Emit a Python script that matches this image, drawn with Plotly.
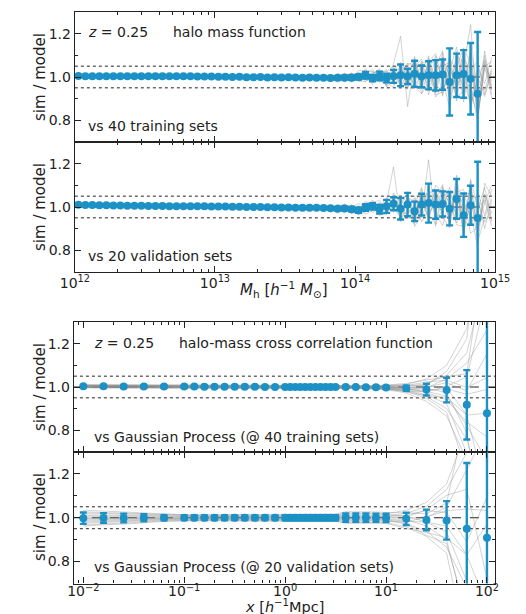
import plotly.graph_objects as go

W, H = 526, 614
BLUE = "#1b91c6"
GRAY = "rgba(140,140,140,0.55)"
INK = "#222222"

# ---------------- halo mass function (top panels) ----------------
logM = [12.025, 12.075, 12.125, 12.175, 12.225, 12.275, 12.325, 12.375, 12.425, 12.475,
        12.525, 12.575, 12.625, 12.675, 12.725, 12.775, 12.825, 12.875, 12.925, 12.975,
        13.025, 13.075, 13.125, 13.175, 13.225, 13.275, 13.325, 13.375, 13.425, 13.475,
        13.525, 13.575, 13.625, 13.675, 13.725, 13.775, 13.825, 13.875, 13.925, 13.975,
        14.025, 14.075, 14.125, 14.175, 14.225, 14.275, 14.325, 14.375, 14.425, 14.475,
        14.525, 14.575, 14.625, 14.675, 14.725, 14.775, 14.825, 14.875]
logM_extra = [14.925, 14.975]

hmf_train = [1.005, 1.004, 1.004, 1.003, 1.004, 1.004, 1.003, 1.003, 1.004, 1.003,
             1.003, 1.004, 1.003, 1.003, 1.004, 1.003, 1.003, 1.002, 1.002, 1.002,
             1.001, 1.001, 1.000, 1.001, 0.999, 0.999, 1.000, 0.998, 0.999, 0.998,
             0.999, 0.998, 0.997, 0.998, 0.996, 0.997, 0.995, 0.996, 0.997, 0.997,
             1.000, 1.008, 0.995, 1.005, 0.995, 1.003, 1.008, 1.003, 1.015, 1.003,
             1.008, 1.008, 1.011, 0.977, 1.008, 1.014, 0.992, 0.923]
hmf_train_err = [0.004] * 36 + [0.006, 0.007, 0.008, 0.010, 0.012, 0.015, 0.015, 0.020,
                                0.020, 0.030, 0.050, 0.035, 0.060, 0.050, 0.065, 0.070,
                                0.070, 0.155, 0.100, 0.110, 0.165, 0.285]

hmf_valid = [1.010, 1.009, 1.009, 1.008, 1.008, 1.007, 1.007, 1.006, 1.006, 1.006,
             1.005, 1.005, 1.005, 1.004, 1.004, 1.004, 1.003, 1.003, 1.003, 1.002,
             1.002, 1.002, 1.001, 1.001, 1.000, 1.000, 1.000, 0.999, 0.999, 0.998,
             0.998, 0.997, 0.997, 0.996, 0.996, 0.995, 0.994, 0.992, 0.993, 0.990,
             0.985, 0.998, 1.003, 0.990, 1.003, 1.015, 0.992, 1.011, 0.980, 1.011,
             1.018, 1.011, 1.014, 0.992, 1.037, 0.962, 1.008, 0.949]
hmf_valid_err = [0.004] * 36 + [0.006, 0.007, 0.008, 0.010, 0.012, 0.015, 0.015, 0.020,
                                0.030, 0.030, 0.050, 0.054, 0.045, 0.050, 0.090, 0.065,
                                0.058, 0.077, 0.092, 0.100, 0.090, 0.260]

# individual sets: offsets (x0.01) from the mean over the last 22 bins + 2 extra bins
hmf_train_sets = [
    [1, -1, 1, 2, -1, 3, -2, 1, 4, -3, 5, -6, 3, 8, -5, 9, -4, 12, -8, 10, -12, 6, 8, -4],
    [-1, 1, -2, 1, 2, -3, 1, -2, -3, 4, -5, 6, -7, 2, 9, -8, 10, -6, 11, -9, 13, -10, 5, 7],
    [0, 2, 1, -2, -1, 2, 3, -3, 2, -4, -2, 5, 6, -8, 3, -10, -6, 9, -12, 7, 4, 15, -8, 3],
    [1, 0, -1, -1, 2, 1, -3, 2, -1, 3, 6, -4, -5, 7, -9, 4, 11, -10, 6, -13, 9, -5, 12, -6],
    [-1, -1, 2, 1, -2, -1, 2, 3, -4, -2, 3, -1, 7, -6, 8, -3, -9, 5, 13, -4, -11, 12, -3, 9],
    [0, 1, -1, 2, 1, -2, -1, 1, 3, 5, -6, 2, -3, -5, 6, 10, -2, -12, 4, 12, -7, -9, 10, -8],
    [1, -1, 0, -2, 3, 2, -2, -1, -2, -5, 1, 6, 4, 5, -7, -6, 8, 3, -10, -8, 14, 3, -6, 4],
    [-1, 0, 1, 2, -2, -3, 2, 3, 1, 2, -3, -5, 8, -3, 4, 7, -10, 11, 2, -6, -3, -13, 7, -10],
    [0, -2, -1, 1, 0, 1, 4, -2, -3, 1, 4, 3, -6, -8, -4, 2, 5, -7, 9, 5, -14, 8, -9, 2],
    [1, 1, 2, -1, -1, -2, -1, 2, 3, -2, 2, -4, 2, 6, 7, -9, -8, 6, -4, 11, 8, -11, 4, -5],
    [0, 1, -1, 2, 0, -2, 3, 1, -4, 6, 18, -14, 5, -3, 6, -8, 4, 9, -6, 3, 25, -10, 6, -2],
]
hmf_valid_sets = [
    [-1, 1, 0, -2, 2, -1, 3, -2, 1, -4, 3, 5, -3, 7, -6, 2, 9, -8, 5, -10, 11, -7, 6, -3],
    [1, -1, 2, 1, -2, 2, -1, 3, -3, 2, -5, -2, 6, -4, 8, -7, -3, 10, -9, 6, -5, 12, -4, 8],
    [0, 1, -1, 2, 1, -3, -2, 1, 4, -1, 2, -6, -4, 3, -8, 9, 5, -6, 11, -3, -9, 4, 9, -6],
    [1, -2, 1, -1, -1, 2, 2, -3, -2, 5, -3, 4, 7, -6, 2, -4, -10, 4, -7, 9, 6, -11, -5, 4],
    [-1, 0, -2, 1, 3, 1, -3, 2, -1, -3, 6, 1, -5, -2, 5, 6, -6, -9, 8, -7, 12, 5, 3, -9],
    [0, 2, 1, -1, -2, -2, 1, -1, 3, 1, -2, -4, 3, 8, -5, -9, 7, 2, -11, 4, -4, -13, 11, 5],
    [1, 0, -1, 2, 0, 3, -1, -2, -4, 3, 4, -1, -6, 5, 4, -3, 8, -5, 3, 12, -8, 7, -7, -2],
    [-1, -1, 1, 0, 2, -1, 2, 4, -2, -2, -4, 3, 5, -8, -3, 7, -2, 6, -12, -5, 9, -6, 2, 10],
    [0, 1, 2, -2, -1, 0, -2, 1, 2, 17, -6, 2, -2, 4, -7, 5, -5, -4, 6, -8, 3, 10, -10, 3],
    [1, -1, -1, 1, 1, -2, 0, 3, -3, -1, 1, 6, -7, -5, 20, -10, 4, 7, -3, 8, -13, -4, 5, -7],
]

# ---------------- cross correlation (bottom panels) ----------------
logx = [-2.0, -1.8, -1.6, -1.4, -1.2, -1.0, -0.9, -0.8, -0.7, -0.6, -0.5, -0.4, -0.3, -0.2,
        -0.1, 0.0, 0.05, 0.1, 0.15, 0.2, 0.25, 0.3, 0.35, 0.4, 0.45, 0.5, 0.6, 0.7, 0.8,
        0.9, 1.0, 1.2, 1.4, 1.6, 1.8, 2.0]

xi_train = [1.003, 1.003, 1.002, 1.002, 1.002, 1.002, 1.002, 1.001, 1.001, 1.001,
            1.001, 1.001, 1.001, 1.000, 1.000, 1.000, 1.000, 1.000, 1.000, 1.000,
            1.000, 1.000, 1.000, 1.000, 1.000, 1.000, 1.000, 1.000, 0.999, 0.999,
            0.998, 0.994, 0.988, 0.986, 0.918, 0.879]
xi_train_err = [0.004] * 29 + [0.005, 0.006, 0.012, 0.027, 0.057, 0.160, 0.550]

xi_valid = [0.998, 0.999, 0.999, 1.000, 1.000, 1.000, 1.000, 1.000, 1.000, 1.000,
            1.000, 1.000, 1.000, 1.000, 1.000, 1.000, 1.000, 1.000, 1.000, 1.000,
            1.000, 1.000, 1.000, 1.000, 1.000, 1.000, 1.001, 1.001, 1.001, 1.000,
            0.999, 0.995, 0.990, 0.988, 0.950, 0.909]
xi_valid_err = [0.026, 0.022, 0.020, 0.016, 0.012, 0.010, 0.010, 0.010, 0.010, 0.010,
                0.010, 0.010, 0.010, 0.010, 0.010, 0.012, 0.012, 0.012, 0.012, 0.012,
                0.012, 0.012, 0.012, 0.012, 0.012, 0.012, 0.019, 0.019, 0.019, 0.019,
                0.019, 0.028, 0.047, 0.088, 0.300, 0.620]

# individual sets, in units of the error bar: [small scales, x=10, 16, 25, 40, 63, 100]
xi_train_sets = [
    [0.5, 0.5, 0.8, 1.0, 1.2, 1.5, 1.2], [-0.6, -0.5, -0.8, -1.2, -1.5, -1.0, -0.8],
    [1.2, 1.0, 1.5, 1.8, 2.0, 2.2, 1.6], [-1.1, -1.0, -1.2, -1.5, -1.8, -1.9, -1.5],
    [0.2, 0.3, 0.2, 0.4, 0.6, 0.4, 0.5], [-0.3, -0.2, -0.4, -0.3, -0.5, -0.6, -0.4],
    [1.6, 1.5, 1.3, 0.6, 0.2, -0.3, -0.7], [-1.5, -1.4, -1.0, -0.4, 0.3, 0.8, 1.0],
    [0.8, 0.7, 0.5, 0.2, -0.2, -0.8, -1.2], [-0.9, -0.8, -0.6, -0.9, -1.1, -1.4, -1.9],
    [0.1, 0.0, 0.3, 0.8, 1.5, 1.9, 2.2], [-0.1, 0.1, -0.2, -0.1, 0.1, 0.3, 0.2],
    [1.0, 0.9, 1.1, 1.3, 0.8, 0.5, 0.3], [-1.3, -1.2, -1.4, -1.0, -0.6, -0.3, 0.0],
    [0.4, 0.4, 0.0, -0.5, -0.8, -0.5, -0.2], [-0.7, -0.6, -0.3, 0.3, 0.9, 1.2, 0.7],
    [1.9, 1.8, 1.9, 1.6, 1.1, 0.9, 1.5], [-1.8, -1.7, -1.8, -2.0, -2.1, -1.6, -1.1],
]
xi_valid_sets = [
    [0.6, 0.6, 0.9, 1.3, 1.6, 1.2, 0.9], [-0.7, -0.6, -0.8, -1.1, -1.4, -0.9, -0.6],
    [1.1, 1.0, 1.4, 1.7, 1.9, 1.5, 1.3], [-1.2, -1.1, -1.3, -1.6, -1.7, -1.8, -1.2],
    [0.2, 0.2, 0.1, 0.3, 0.5, 0.3, 0.2], [-0.3, -0.3, -0.4, -0.2, -0.3, -0.4, -0.5],
    [0.9, 0.8, 0.4, -0.2, -0.6, -0.8, -1.0], [-0.9, -0.8, -0.4, 0.2, 0.7, 0.9, 0.8],
    [0.4, 0.4, 0.6, 0.9, 0.4, -0.2, 0.3], [-0.5, -0.4, -0.8, -1.5, -1.2, -1.3, -1.6],
    [1.4, 1.3, 1.0, 0.6, 0.9, 1.8, 2.0], [-1.4, -1.3, -1.6, -1.2, -0.9, -0.4, 0.1],
    [0.0, 0.1, 0.3, 1.0, 1.3, 0.6, -0.3], [-0.1, -0.2, -0.1, -0.6, -1.0, -1.4, -0.9],
]

texts_top = ["vs 40 training sets", "vs 20 validation sets"]
texts_bot = ["vs Gaussian Process (@ 40 training sets)", "vs Gaussian Process (@ 20 validation sets)"]

fig = go.Figure()

Mx = [10 ** v for v in logM]
Mx_all = Mx + [10 ** v for v in logM_extra]
Xx = [10 ** v for v in logx]


def add_blue(x, y, e, xa, ya):
    fig.add_trace(go.Scatter(
        x=x, y=y, mode="markers", xaxis=xa, yaxis=ya, showlegend=False,
        marker=dict(color=BLUE, size=8, line=dict(width=0)),
        error_y=dict(type="data", array=e, visible=True, color=BLUE, thickness=2.4, width=3.5),
        hoverinfo="skip"))


def add_gray(x, y, xa, ya):
    fig.add_trace(go.Scatter(
        x=x, y=y, mode="lines", xaxis=xa, yaxis=ya, showlegend=False,
        line=dict(color=GRAY, width=0.7), hoverinfo="skip"))


n_head = len(logM) - 22
for vals, errs, sets, xa, ya in [(hmf_train, hmf_train_err, hmf_train_sets, "x", "y"),
                                  (hmf_valid, hmf_valid_err, hmf_valid_sets, "x2", "y2")]:
    for off in sets:
        yy = vals[:n_head] + [vals[n_head + k] + off[k] / 100 for k in range(22)] \
             + [1.0 + off[22] / 100, 1.0 + off[23] / 100]
        add_gray(Mx_all, yy, xa, ya)
    add_blue(Mx, vals, errs, xa, ya)

n_small = len(logx) - 6
for vals, errs, sets, xa, ya in [(xi_train, xi_train_err, xi_train_sets, "x3", "y3"),
                                  (xi_valid, xi_valid_err, xi_valid_sets, "x4", "y4")]:
    for z in sets:
        zz = [z[0]] * n_small + z[1:]
        yy = [v + zi * e for v, zi, e in zip(vals, zz, errs)]
        add_gray(Xx, yy, xa, ya)
    add_blue(Xx, vals, errs, xa, ya)

# ---------------- layout ----------------
def px_x(p):
    return p / W


def px_y(p):
    return 1 - p / H


xd_top = [px_x(55), px_x(500.7)]
xd_bot = [px_x(54), px_x(500.7)]
yd = [[px_y(134), px_y(4)], [px_y(264), px_y(134)], [px_y(444), px_y(314)], [px_y(575.5), px_y(444)]]

tickfont = dict(family="DejaVu Sans", size=14, color=INK)
common = dict(showline=True, linecolor=INK, linewidth=1.3, mirror="allticks", ticks="inside",
              ticklen=6, tickwidth=1, tickcolor=INK, showgrid=False, zeroline=False,
              tickfont=tickfont)

minor_M = [m * 10 ** d for d in (12, 13, 14) for m in range(2, 10)]
minor_X = [m * 10 ** d for d in (-3, -2, -1, 0, 1, 2) for m in range(2, 10)]
minor_X = [v for v in minor_X if 10 ** -2.093 < v < 10 ** 2.081]

xM = dict(type="log", range=[12, 15], tickmode="array", tickvals=[1e12, 1e13, 1e14, 1e15],
          ticktext=["10<sup>12</sup>", "10<sup>13</sup>", "10<sup>14</sup>", "10<sup>15</sup>"],
          minor=dict(ticks="inside", ticklen=3, tickcolor=INK, tickmode="array", tickvals=minor_M),
          ticklabelstandoff=-2, **common)
xX = dict(type="log", range=[-2.093, 2.081], tickmode="array", tickvals=[1e-2, 1e-1, 1, 10, 100],
          ticktext=["10<sup>\u22122</sup>", "10<sup>\u22121</sup>", "10<sup>0</sup>",
                    "10<sup>1</sup>", "10<sup>2</sup>"],
          minor=dict(ticks="inside", ticklen=3, tickcolor=INK, tickmode="array", tickvals=minor_X),
          ticklabelstandoff=-5, **common)
yax = dict(range=[0.7, 1.3], tickmode="array", tickvals=[0.8, 1.0, 1.2],
           ticktext=["0.8", "1.0", "1.2"],
           minor=dict(ticks="inside", ticklen=3, tickcolor=INK, tickmode="array", tickvals=[0.9, 1.1]),
           **common)

fig.update_layout(
    width=W, height=H, margin=dict(l=0, r=0, t=0, b=0),
    paper_bgcolor="white", plot_bgcolor="white",
    font=dict(family="DejaVu Sans", size=14, color=INK),
    xaxis=dict(domain=xd_top, anchor="y", showticklabels=False, **xM),
    xaxis2=dict(domain=xd_top, anchor="y2", matches="x", **xM),
    xaxis3=dict(domain=xd_bot, anchor="y3", showticklabels=False, **xX),
    xaxis4=dict(domain=xd_bot, anchor="y4", matches="x3", **xX),
    yaxis=dict(domain=yd[0], anchor="x", **yax),
    yaxis2=dict(domain=yd[1], anchor="x2", **yax),
    yaxis3=dict(domain=yd[2], anchor="x3", **yax),
    yaxis4=dict(domain=yd[3], anchor="x4", **yax),
)

shapes = []
for i, ax in enumerate(["", "2", "3", "4"]):
    for yv, dash in [(1.05, "dot"), (0.95, "dot"), (1.0, "dash")]:
        shapes.append(dict(type="line", xref=f"x{ax} domain", yref=f"y{ax}", x0=0, x1=1,
                           y0=yv, y1=yv, layer="below",
                           line=dict(color=INK, width=1, dash=dash)))
fig.update_layout(shapes=shapes)

ann = []


def txt(x, y, s, size=14, **kw):
    d = dict(x=px_x(x), y=px_y(y), xref="paper", yref="paper", text=s, showarrow=False,
             xanchor="left", yanchor="middle", font=dict(family="DejaVu Sans", size=size, color=INK))
    d.update(kw)
    ann.append(d)


txt(67, 24, "<i>z</i> = 0.25")
txt(157, 24, "halo mass function")
txt(67, 118, texts_top[0])
txt(67, 248, texts_top[1])
txt(73, 335, "<i>z</i> = 0.25")
txt(163, 335, "halo-mass cross correlation function")
txt(73, 429, texts_bot[0])
txt(73, 559, texts_bot[1])
for yc in (69, 199, 379, 509):
    txt(18, yc, "sim / model", size=15, xanchor="center", textangle=-90)
txt(277, 281, "<i>M</i><sub>h</sub> [<i>h</i><sup>\u22121</sup> <i>M</i><sub>\u2299</sub>]",
    size=15, xanchor="center")
txt(277, 598, "<i>x</i> [<i>h</i><sup>\u22121</sup>Mpc]", size=14.5, xanchor="center")
fig.update_layout(annotations=ann)

fig.write_html("out.html")
